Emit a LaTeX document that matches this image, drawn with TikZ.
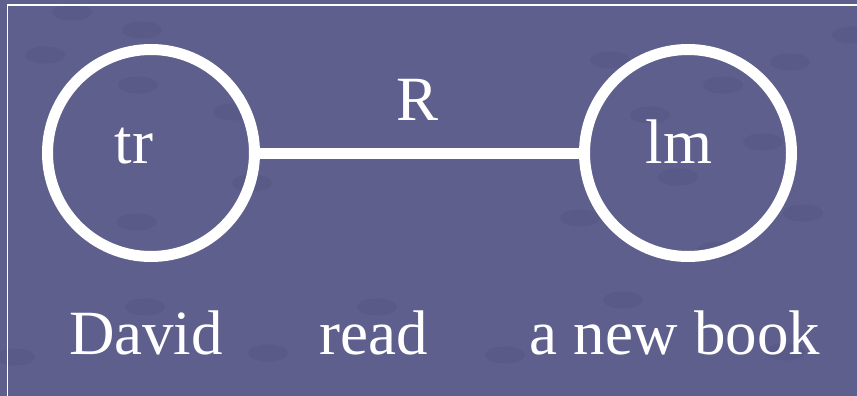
\documentclass[tikz,border=0pt]{standalone}
\usepackage{fontspec}
\setmainfont{Liberation Serif}
\definecolor{bgslate}{RGB}{95,95,142}
\definecolor{dotslate}{RGB}{90,90,137}
\tikzset{
  ring/.style={draw=white, line width=11pt, circle, minimum size=207pt, inner sep=0pt},
  word/.style={text=white, anchor=base, inner sep=0pt, font=\fontsize{63}{70}\selectfont},
  link/.style={draw=white, line width=11pt},
  blob/.style={fill=dotslate}
}
\begin{document}
\begin{tikzpicture}[x=1pt,y=-1pt]
  \fill[bgslate] (0,0) rectangle (857,396);
  \useasboundingbox (0,0) rectangle (857,396);
  \foreach \px/\py in {72/12,142/30,45/55,138/85,233/112,252/183,137/222,15/357,
      852/35,790/62,610/60,723/85,650/115,763/142,678/177,580/218,803/213,717/250,
      145/307,268/353,377/307,623/300,785/352,505/355}
    \fill[blob] (\px,\py) ellipse [x radius=20, y radius=8.5];
  \draw[white, line width=1.5pt] (7.5,396) -- (7.5,5) -- (857,5);
  \node[ring] (trc) at (151,153) {};
  \node[ring] (lmc) at (688,153) {};
  \draw[link] (trc.east) -- (lmc.west);
  \node[word] (tr) at (134,163) {tr};
  \node[word] (lm) at (679,163) {lm};
  \node[word] (R) at (418,121) {R};
  \node[word] (david) at (146,354) {David};
  \node[word] (read) at (374,354) {read};
  \node[word] (book) at (675,354) {a new book};
\end{tikzpicture}
\end{document}
